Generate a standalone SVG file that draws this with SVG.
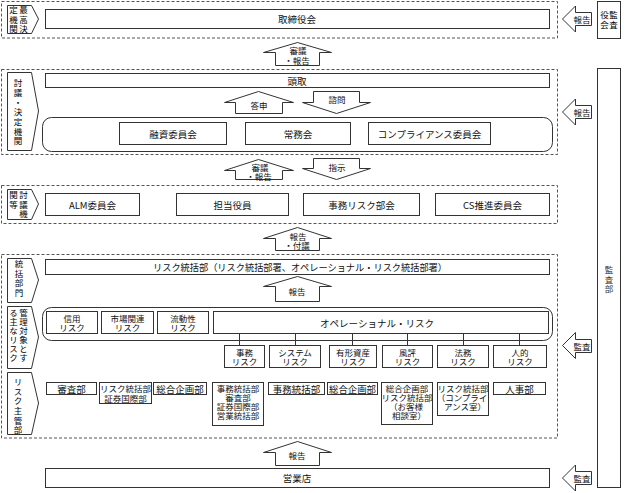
<svg xmlns="http://www.w3.org/2000/svg" width="625" height="493" viewBox="0 0 625 493">
<style>
.dash{fill:none;stroke:#555;stroke-width:1;stroke-dasharray:3 2}
.box{fill:#fff;stroke:#333;stroke-width:1}
.arr{fill:#fff;stroke:#333;stroke-width:1}
.ln{stroke:#333;stroke-width:1}
text{font-family:"Noto Sans CJK JP","Noto Sans CJK SC",sans-serif;font-size:9.5px;fill:#111;text-anchor:middle;dominant-baseline:central}
.v{writing-mode:vertical-rl;text-anchor:start;font-size:8.5px;fill:#000}
.sm{font-size:8.5px}
.ml{font-size:8.5px}
</style>
<rect width="625" height="493" fill="#fff"/>

<g id="sections">
<rect class="dash" x="1.5" y="1.5" width="556" height="36.5"/>
<rect class="dash" x="1.5" y="69.5" width="556" height="85"/>
<rect class="dash" x="1.5" y="185.5" width="556" height="38"/>
<rect class="dash" x="1.5" y="254.5" width="556" height="183.5"/>
</g>

<g id="label-top">
<polygon class="box" points="7.5,5.5 31.5,5.5 38.5,19 31.5,33.5 7.5,33.5"/>
<text class="v" x="23.5" y="5.75" letter-spacing="1">最高決</text>
<text class="v" x="13.5" y="5.75" letter-spacing="1">定機関</text>
</g>
<g id="label-decision">
<polygon class="box" points="7.5,72.5 31.5,72.5 38.5,111 31.5,150.5 7.5,150.5"/>
<text class="v" x="18" y="78.75" letter-spacing="1.2">討議・決定機関</text>
</g>
<g id="label-discuss">
<polygon class="box" points="7.5,189.5 31.5,189.5 38.5,204 31.5,219.5 7.5,219.5"/>
<text class="v" x="23.5" y="190.75" letter-spacing="1">討議機</text>
<text class="v" x="13.5" y="190.75" letter-spacing="1">関等</text>
</g>
<g id="label-control">
<polygon class="box" points="7.5,258.5 31.5,258.5 38.5,280 31.5,302.5 7.5,302.5"/>
<text class="v" x="19" y="259.75" letter-spacing="1">統括部門</text>
</g>
<g id="label-risks">
<polygon class="box" points="7.5,306.5 31.5,306.5 38.5,337 31.5,368.5 7.5,368.5"/>
<text class="v" x="23.5" y="308.75" letter-spacing="0.5">管理対象とす</text>
<text class="v" x="13.5" y="308.75" letter-spacing="0.5">る主なリスク</text>
</g>
<g id="label-owner">
<polygon class="box" points="7.5,372.5 31.5,372.5 38.5,403 31.5,434.5 7.5,434.5"/>
<text class="v" x="18" y="377.75" letter-spacing="1.1">リスク主管部</text>
</g>

<g id="board"><rect class="box" x="45.5" y="9.5" width="504" height="19"/><text x="297" y="19">取締役会</text></g>
<g id="auditors"><rect class="box" x="597.5" y="1.5" width="23" height="37"/><text class="v" x="613.5" y="10.75" letter-spacing="1">監査</text><text class="v" x="604.5" y="10.75" letter-spacing="1">役会</text></g>
<g id="audit-dept"><rect class="box" x="597.5" y="68.5" width="23" height="419"/><text class="v" x="609" y="265.75" letter-spacing="1" style="fill:#333">監査部</text></g>
<g id="president"><rect class="box" x="45.5" y="73.5" width="504" height="14"/><text x="297" y="80.5">頭取</text></g>
<g id="committees"><rect class="box" x="42.5" y="117.5" width="510" height="34" rx="9"/></g>
<g id="loan-committee"><rect class="box" x="119.5" y="122.5" width="107" height="22"/><text x="173" y="133.5">融資委員会</text></g>
<g id="managing-board"><rect class="box" x="245.5" y="122.5" width="105" height="22"/><text x="298" y="133.5">常務会</text></g>
<g id="compliance-committee"><rect class="box" x="368.5" y="122.5" width="122" height="22"/><text x="429.5" y="133.5">コンプライアンス委員会</text></g>

<g id="alm"><rect class="box" x="45.5" y="193.5" width="94" height="22"/><text x="92.5" y="204.5">ALM委員会</text></g>
<g id="officer"><rect class="box" x="176.5" y="193.5" width="112" height="22"/><text x="232.5" y="204.5">担当役員</text></g>
<g id="opr-committee"><rect class="box" x="303.5" y="193.5" width="116" height="22"/><text x="361.5" y="204.5">事務リスク部会</text></g>
<g id="cs-committee"><rect class="box" x="435.5" y="193.5" width="114" height="22"/><text x="492.5" y="204.5">CS推進委員会</text></g>

<g id="risk-control"><rect class="box" x="45.5" y="259.5" width="504" height="15"/><text x="300" y="267" textLength="294" lengthAdjust="spacingAndGlyphs">リスク統括部（リスク統括部署、オペレーショナル・リスク統括部署）</text></g>

<g id="risk-container"><rect class="box" x="42.5" y="307.5" width="510" height="33" rx="9"/></g>

<g id="connectors">
<line class="ln" x1="239.5" y1="333" x2="239.5" y2="345.5"/>
<line class="ln" x1="295.5" y1="333" x2="295.5" y2="345.5"/>
<line class="ln" x1="352.5" y1="333" x2="352.5" y2="345.5"/>
<line class="ln" x1="407.5" y1="333" x2="407.5" y2="345.5"/>
<line class="ln" x1="463.5" y1="333" x2="463.5" y2="345.5"/>
<line class="ln" x1="519.5" y1="333" x2="519.5" y2="345.5"/>
<polygon class="arr" points="275.5,65.5 275.5,52.5 263.5,52.5 297.5,42.5 331.5,52.5 319.5,52.5 319.5,65.5"/>
<text class="sm"><tspan x="298" y="49.5">審議</tspan><tspan x="297" y="60">・報告</tspan></text>
<polygon class="arr" points="235.5,113.5 235.5,102.5 224.5,102.5 258.5,91.5 293.5,102.5 282.5,102.5 282.5,113.5"/>
<text class="sm" x="259" y="105">答申</text>
<polygon class="arr" points="313.5,91.5 359.5,91.5 359.5,102.5 370.5,102.5 336.5,113.5 302.5,102.5 313.5,102.5"/>
<text class="sm" x="337" y="99">諮問</text>
<polygon class="arr" points="235.5,179.5 235.5,170.5 224.5,170.5 258.5,159.5 293.5,170.5 282.5,170.5 282.5,179.5"/>
<text class="sm"><tspan x="260" y="167">審議</tspan><tspan x="259" y="176">・報告</tspan></text>
<polygon class="arr" points="313.5,158.5 359.5,158.5 359.5,168.5 370.5,168.5 336.5,179.5 302.5,168.5 313.5,168.5"/>
<text class="sm" x="337" y="166.5">指示</text>
<polygon class="arr" points="275.5,250.5 275.5,238.5 263.5,238.5 297.5,227.5 331.5,238.5 319.5,238.5 319.5,250.5"/>
<text class="sm"><tspan x="298" y="235.5">報告</tspan><tspan x="297" y="244.5">・付議</tspan></text>
<polygon class="arr" points="275.5,301.5 275.5,286.5 263.5,286.5 297.5,276.5 331.5,286.5 319.5,286.5 319.5,301.5"/>
<text class="sm" x="297" y="290.5">報告</text>
<polygon class="arr" points="275.5,465.5 275.5,452.5 263.5,452.5 297.5,441.5 331.5,452.5 319.5,452.5 319.5,465.5"/>
<text class="sm" x="297" y="455">報告</text>
<polygon class="arr" points="562.5,19 575.5,6 575.5,12.5 591.5,12.5 591.5,25.5 575.5,25.5 575.5,32"/>
<text class="sm" x="582" y="19">報告</text>
<polygon class="arr" points="562.5,112 575.5,99 575.5,105.5 591.5,105.5 591.5,118.5 575.5,118.5 575.5,125"/>
<text class="sm" x="582" y="112">報告</text>
<polygon class="arr" points="562.5,345.5 575.5,332.5 575.5,339.5 591.5,339.5 591.5,352.5 575.5,352.5 575.5,358.5"/>
<text class="sm" x="582" y="346">監査</text>
<polygon class="arr" points="562.5,478 575.5,465 575.5,471.5 591.5,471.5 591.5,484.5 575.5,484.5 575.5,491"/>
<text class="sm" x="582" y="478">監査</text>
</g>

<g id="credit-risk"><rect class="box" x="46.5" y="311.5" width="51" height="22"/><text class="ml"><tspan x="72" y="317.5">信用</tspan><tspan x="72" y="327">リスク</tspan></text></g>
<g id="market-risk"><rect class="box" x="101.5" y="311.5" width="52" height="22"/><text class="ml"><tspan x="127.5" y="317.5">市場関連</tspan><tspan x="127.5" y="327">リスク</tspan></text></g>
<g id="liquidity-risk"><rect class="box" x="157.5" y="311.5" width="51" height="22"/><text class="ml"><tspan x="183" y="317.5">流動性</tspan><tspan x="183" y="327">リスク</tspan></text></g>
<g id="operational-risk"><rect class="box" x="213.5" y="311.5" width="335" height="22"/><text x="377" y="322.5">オペレーショナル・リスク</text></g>
<g id="admin-risk"><rect class="box" x="224.5" y="345.5" width="40" height="22"/><text class="ml"><tspan x="244.5" y="351.5">事務</tspan><tspan x="244.5" y="361">リスク</tspan></text></g>
<g id="system-risk"><rect class="box" x="269.5" y="345.5" width="51" height="22"/><text class="ml"><tspan x="295" y="351.5">システム</tspan><tspan x="295" y="361">リスク</tspan></text></g>
<g id="asset-risk"><rect class="box" x="329.5" y="345.5" width="47" height="22"/><text class="ml"><tspan x="353" y="351.5">有形資産</tspan><tspan x="353" y="361">リスク</tspan></text></g>
<g id="reputation-risk"><rect class="box" x="382.5" y="345.5" width="50" height="22"/><text class="ml"><tspan x="407.5" y="351.5">風評</tspan><tspan x="407.5" y="361">リスク</tspan></text></g>
<g id="legal-risk"><rect class="box" x="437.5" y="345.5" width="51" height="22"/><text class="ml"><tspan x="463" y="351.5">法務</tspan><tspan x="463" y="361">リスク</tspan></text></g>
<g id="hr-risk"><rect class="box" x="493.5" y="345.5" width="53" height="22"/><text class="ml"><tspan x="520" y="351.5">人的</tspan><tspan x="520" y="361">リスク</tspan></text></g>

<g id="d-credit"><rect class="box" x="46.5" y="382.5" width="50" height="12"/><text x="71.5" y="388.5">審査部</text></g>
<g id="d-market"><rect class="box" x="99.5" y="382.5" width="52" height="21"/><text class="ml"><tspan x="125.5" y="388">リスク統括部</tspan><tspan x="125.5" y="397.5">証券国際部</tspan></text></g>
<g id="d-liquidity"><rect class="box" x="153.5" y="382.5" width="53" height="12"/><text x="180" y="388.5">総合企画部</text></g>
<g id="d-admin"><rect class="box" x="212.5" y="382.5" width="51" height="43"/><text class="ml"><tspan x="238" y="388">事務統括部</tspan><tspan x="238" y="397">審査部</tspan><tspan x="238" y="406">証券国際部</tspan><tspan x="238" y="415">営業統括部</tspan></text></g>
<g id="d-system"><rect class="box" x="268.5" y="382.5" width="56" height="12"/><text x="296.5" y="388.5">事務統括部</text></g>
<g id="d-asset"><rect class="box" x="327.5" y="382.5" width="50" height="12"/><text x="352.5" y="388.5" textLength="47" lengthAdjust="spacingAndGlyphs">総合企画部</text></g>
<g id="d-reputation"><rect class="box" x="381.5" y="382.5" width="51" height="42"/><text class="ml"><tspan x="407" y="387.5">総合企画部</tspan><tspan x="407" y="396.5">リスク統括部</tspan><tspan x="406" y="405.5">（お客様</tspan><tspan x="409" y="414.5">相談室）</tspan></text></g>
<g id="d-legal"><rect class="box" x="437.5" y="382.5" width="51" height="33"/><text class="ml"><tspan x="463" y="387.5">リスク統括部</tspan><tspan x="462" y="396.5">（コンプライ</tspan><tspan x="465" y="405.5">アンス室）</tspan></text></g>
<g id="d-hr"><rect class="box" x="493.5" y="382.5" width="52" height="12"/><text x="519.5" y="388.5">人事部</text></g>

<g id="branches"><rect class="box" x="45.5" y="468.5" width="504" height="19"/><text x="297" y="478">営業店</text></g>
</svg>
